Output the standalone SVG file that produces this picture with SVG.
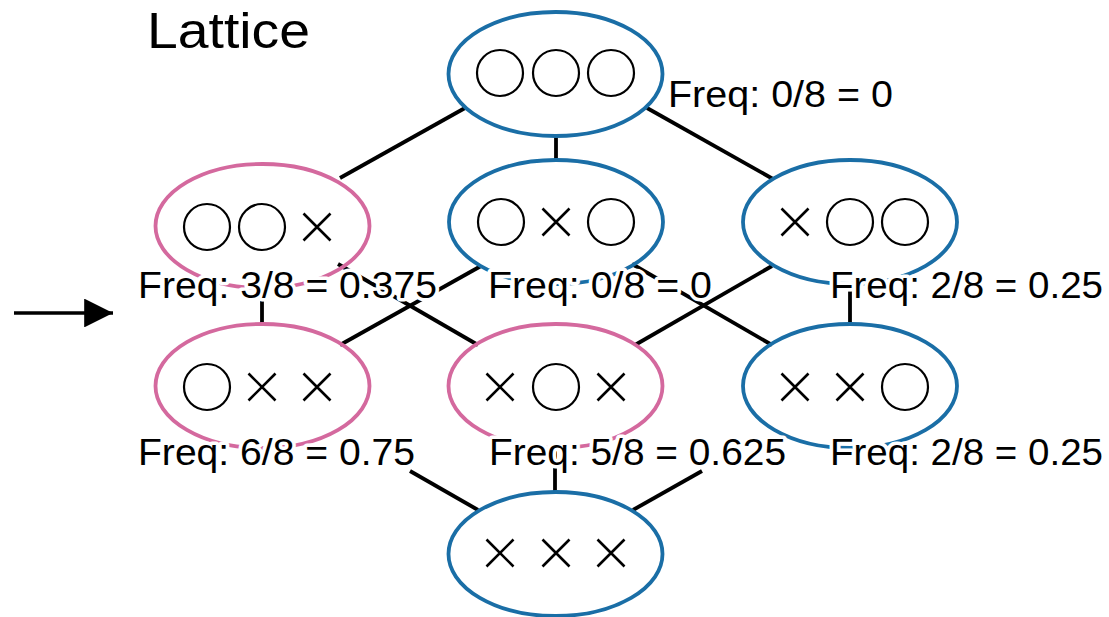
<svg xmlns="http://www.w3.org/2000/svg" width="1109" height="617" viewBox="0 0 1109 617">
<defs>
<style>
.blue{fill:none;stroke:#1a6ea6;stroke-width:3.8}
.pink{fill:none;stroke:#d4699e;stroke-width:3.8}
.edge{stroke:#000;stroke-width:3.8;fill:none}
.o{fill:none;stroke:#000;stroke-width:2.2}
.x{stroke:#000;stroke-width:2.6;fill:none}
.lbl{font-family:"Liberation Sans",Arial,sans-serif;font-size:37px;fill:#000;stroke:#fff;stroke-width:7;paint-order:stroke;stroke-linejoin:round}
.title{font-family:"Liberation Sans",Arial,sans-serif;font-size:50px;fill:#000}
</style>
<symbol id="O" overflow="visible"><circle cx="0" cy="0" r="23" class="o"/></symbol>
<symbol id="X" overflow="visible"><path d="M-13.5,-13.5L13.5,13.5M13.5,-13.5L-13.5,13.5" class="x"/></symbol>
<marker id="ah" viewBox="0 0 10 10" refX="10" refY="5" markerWidth="9" markerHeight="8" markerUnits="strokeWidth" orient="auto"><path d="M0,0L10,5L0,10z" fill="#000"/></marker>
</defs>
<rect width="1109" height="617" fill="#fff"/>
<text class="title" x="147" y="48" textLength="163" lengthAdjust="spacingAndGlyphs">Lattice</text>
<g id="connectors">
<line class="edge" x1="340" y1="178" x2="465" y2="108"/>
<line class="edge" x1="556" y1="137" x2="556" y2="160"/>
<line class="edge" x1="647" y1="108" x2="773" y2="179"/>
<line class="edge" x1="262" y1="289" x2="262" y2="326"/>
<line class="edge" x1="338" y1="264" x2="478" y2="345"/>
<line class="edge" x1="340" y1="345" x2="481" y2="266"/>
<line class="edge" x1="772" y1="266" x2="635" y2="345"/>
<line class="edge" x1="632" y1="264" x2="772" y2="345"/>
<line class="edge" x1="850" y1="289" x2="850" y2="326"/>
<line class="edge" x1="410" y1="471" x2="478" y2="510"/>
<line class="edge" x1="555" y1="449" x2="555" y2="492"/>
<line class="edge" x1="633" y1="510" x2="702" y2="471"/>
<line x1="14" y1="313" x2="113" y2="313" stroke="#000" stroke-width="3.6" marker-end="url(#ah)"/>
</g>
<g id="n000"><ellipse class="blue" cx="555.5" cy="74" rx="107" ry="62"/><use href="#O" x="500" y="73"/><use href="#O" x="556" y="73"/><use href="#O" x="611" y="73"/></g>
<g id="n001"><ellipse class="pink" cx="262.5" cy="226" rx="107" ry="62"/><use href="#O" x="207" y="227"/><use href="#O" x="262" y="227"/><use href="#X" x="317" y="227"/></g>
<g id="n010"><ellipse class="blue" cx="556" cy="222" rx="107" ry="62"/><use href="#O" x="501" y="222"/><use href="#X" x="556" y="222"/><use href="#O" x="611" y="222"/></g>
<g id="n100"><ellipse class="blue" cx="850" cy="222" rx="107" ry="62"/><use href="#X" x="795" y="222"/><use href="#O" x="850" y="222"/><use href="#O" x="905" y="222"/></g>
<g id="n011"><ellipse class="pink" cx="262.5" cy="386" rx="107" ry="62"/><use href="#O" x="207" y="387"/><use href="#X" x="262" y="387"/><use href="#X" x="317" y="387"/></g>
<g id="n101"><ellipse class="pink" cx="555.5" cy="386" rx="107" ry="62"/><use href="#X" x="500" y="387"/><use href="#O" x="556" y="387"/><use href="#X" x="611" y="387"/></g>
<g id="n110"><ellipse class="blue" cx="850" cy="386" rx="107" ry="62"/><use href="#X" x="795" y="387"/><use href="#X" x="850" y="387"/><use href="#O" x="905" y="387"/></g>
<g id="n111"><ellipse class="blue" cx="555.5" cy="554" rx="107" ry="62"/><use href="#X" x="500" y="553"/><use href="#X" x="556" y="553"/><use href="#X" x="611" y="553"/></g>
<g id="labels">
<text class="lbl" x="668" y="107" textLength="225" lengthAdjust="spacingAndGlyphs">Freq: 0/8 = 0</text>
<text class="lbl" x="138" y="298" textLength="299" lengthAdjust="spacingAndGlyphs">Freq: 3/8 = 0.375</text>
<text class="lbl" x="488" y="298" textLength="224" lengthAdjust="spacingAndGlyphs">Freq: 0/8 = 0</text>
<text class="lbl" x="830" y="298" textLength="273" lengthAdjust="spacingAndGlyphs">Freq: 2/8 = 0.25</text>
<text class="lbl" x="138" y="465" textLength="277" lengthAdjust="spacingAndGlyphs">Freq: 6/8 = 0.75</text>
<text class="lbl" x="489" y="465" textLength="297" lengthAdjust="spacingAndGlyphs">Freq: 5/8 = 0.625</text>
<text class="lbl" x="830" y="465" textLength="273" lengthAdjust="spacingAndGlyphs">Freq: 2/8 = 0.25</text>
</g>
</svg>
